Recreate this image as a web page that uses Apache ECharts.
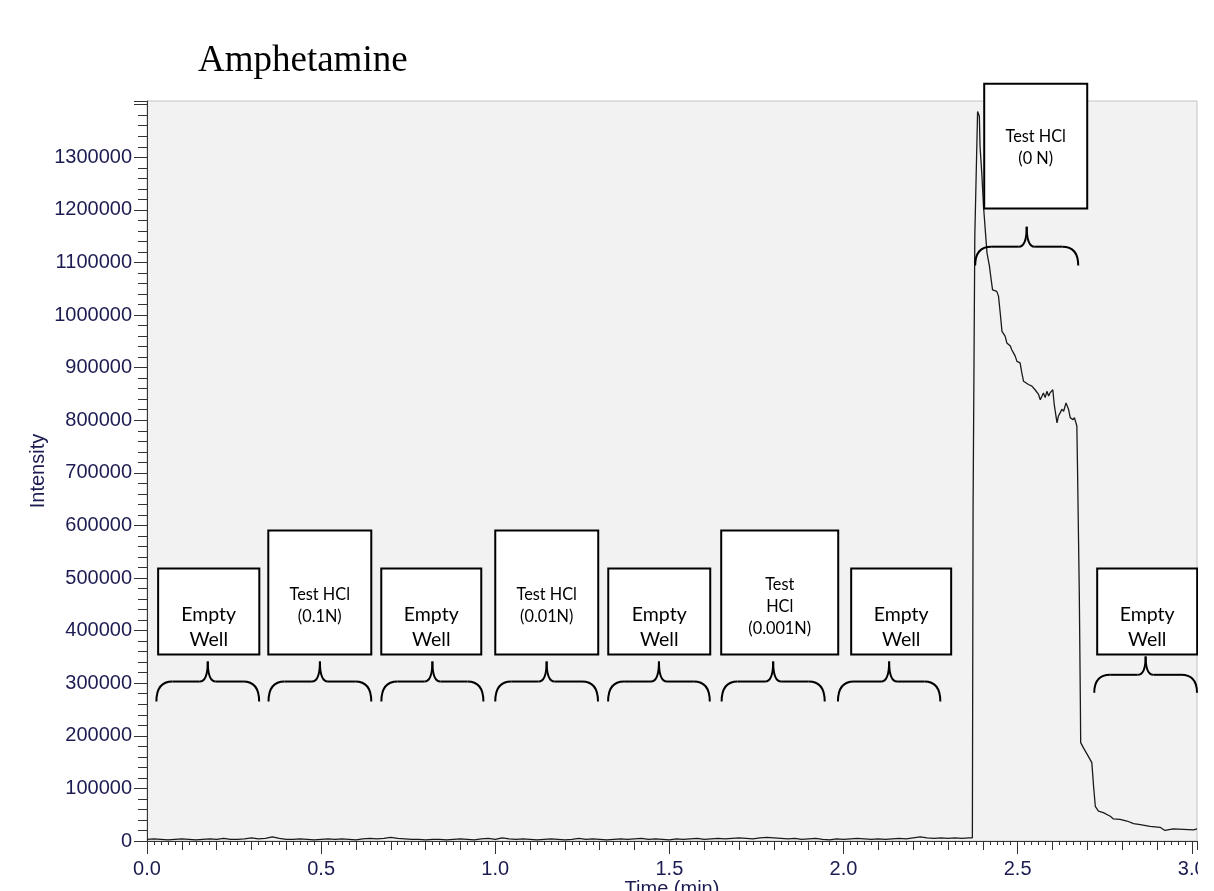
<!DOCTYPE html>
<html><head><meta charset="utf-8">
<script src="https://cdn.jsdelivr.net/npm/echarts@6/dist/echarts.min.js"></script>
<style>html,body{margin:0;padding:0;background:#fff}#c{width:1214px;height:891px}</style>
</head><body><div id="c"></div>
<script>
// ---- data ----
const timeMin = [
  0.00,0.02,0.04,0.06,0.08,0.10,0.12,0.14,0.16,0.18,0.20,0.22,0.24,0.26,0.28,0.30,0.32,0.34,0.36,0.38,
  0.40,0.42,0.44,0.46,0.48,0.50,0.52,0.54,0.56,0.58,0.60,0.62,0.64,0.66,0.68,0.70,0.72,0.74,0.76,0.78,
  0.80,0.82,0.84,0.86,0.88,0.90,0.92,0.94,0.96,0.98,1.00,1.02,1.04,1.06,1.08,1.10,1.12,1.14,1.16,1.18,
  1.20,1.22,1.24,1.26,1.28,1.30,1.32,1.34,1.36,1.38,1.40,1.42,1.44,1.46,1.48,1.50,1.52,1.54,1.56,1.58,
  1.60,1.62,1.64,1.66,1.68,1.70,1.72,1.74,1.76,1.78,1.80,1.82,1.84,1.86,1.88,1.90,1.92,1.94,1.96,1.98,
  2.00,2.02,2.04,2.06,2.08,2.10,2.12,2.14,2.16,2.18,2.20,2.22,2.24,2.26,2.28,2.30,2.32,2.34,2.36,2.370,
  2.372,2.377,2.385,2.390,2.392,2.397,2.402,2.407,2.412,2.419,2.424,2.428,2.440,2.445,2.450,2.455,2.464,2.469,2.474,2.479,
  2.483,2.488,2.493,2.498,2.507,2.512,2.517,2.522,2.531,2.541,2.550,2.560,2.565,2.570,2.574,2.579,2.584,2.589,2.593,2.601,
  2.605,2.613,2.617,2.622,2.627,2.632,2.639,2.646,2.651,2.659,2.663,2.670,2.672,2.675,2.677,2.680,2.681,2.689,2.703,2.713,
  2.718,2.723,2.732,2.746,2.766,2.775,2.794,2.814,2.833,2.852,2.880,2.909,2.923,2.947,2.976,3.005,3.015
];
const intensity = [
  3000,4000,3000,2000,3000,4000,3000,2000,3000,4000,3000,5000,3000,3000,4000,6000,4000,5000,8000,5000,
  3000,3000,4000,3000,2000,3000,4000,3000,4000,3000,2000,4000,5000,4000,5000,7000,5000,4000,3000,3000,
  2000,3000,3000,2000,3000,4000,3000,2000,4000,5000,3000,6000,4000,3000,4000,3000,2000,3000,4000,3000,
  2000,3000,5000,3000,4000,3000,2000,3000,4000,3000,4000,5000,3000,4000,3000,2000,4000,3000,4000,5000,
  3000,4000,5000,4000,5000,6000,5000,4000,6000,7000,6000,5000,4000,5000,3000,4000,5000,3000,2000,4000,
  3000,4000,5000,4000,3000,4000,3000,4000,5000,4000,6000,8000,6000,5000,6000,5000,6000,5000,6000,6000,
  630000,1150000,1387000,1378000,1321000,1270000,1207000,1162000,1118000,1093000,1067000,1048000,1045000,1036000,1004000,969000,960000,947000,950000,941000,
  934000,928000,922000,912000,909000,890000,874000,871000,868000,865000,858000,849000,839000,846000,852000,843000,855000,846000,852000,858000,
  830000,795000,808000,814000,821000,817000,833000,821000,805000,801000,805000,789000,706000,703000,472000,269000,187000,177000,161000,149000,
  104000,66000,57000,54000,47000,42000,41000,38000,33000,31000,28000,26000,20000,23000,22000,21000,23000
];
const xTickLabels = ['0.0','0.5','1.0','1.5','2.0','2.5','3.0'];
const segmentLabels = ['Empty\nWell','Test HCl\n(0.1N)','Empty\nWell','Test HCl\n(0.01N)','Empty\nWell',
  'Test\nHCl\n(0.001N)','Empty\nWell','Test HCl\n(0 N)','Empty\nWell'];
const segmentStart = [0.027,0.349,0.673,1.000,1.324,1.650,1.984,2.378,2.720];
const segmentEnd   = [0.322,0.644,0.966,1.295,1.616,1.946,2.278,2.674,3.015];

// ---- annotation layout (box/brace placement, in axis units) ----
const boxLayout = [
  {x0:0.032,x1:0.3225,top:518000,bot:354600,ty:407000,kind:'empty'},
  {x0:0.3483,x1:0.644,top:590300,bot:354600,ty:447000,kind:'test'},
  {x0:0.6727,x1:0.9598,top:518000,bot:354600,ty:407000,kind:'empty'},
  {x0:1.000,x1:1.2957,top:590300,bot:354600,ty:447000,kind:'test'},
  {x0:1.3245,x1:1.6173,top:518000,bot:354600,ty:407000,kind:'empty'},
  {x0:1.6488,x1:1.9848,top:590300,bot:354600,ty:446000,kind:'test'},
  {x0:2.022,x1:2.3091,top:518000,bot:354600,ty:407000,kind:'empty'},
  {x0:2.404,x1:2.6998,top:1440000,bot:1202500,ty:1318500,kind:'test'},
  {x0:2.7284,x1:3.0155,top:518000,bot:354600,ty:407000,kind:'empty'}
];
const braceLevels = [
  [341200,303200,265200],[341200,303200,265200],[341200,303200,265200],[341200,303200,265200],
  [341200,303200,265200],[341200,303200,265200],[341200,303200,265200],
  [1168000,1130000,1094000],[351000,316000,282000]
];

const labelColor = '#1c1c52';
const lineData = timeMin.map((t, i) => [t, intensity[i]]);

const chart = echarts.init(document.getElementById('c'));
const option = {
  animation: false,
  backgroundColor: '#ffffff',
  title: {
    text: 'Amphetamine', left: 193, top: 38,
    textStyle: {fontFamily: 'Liberation Serif', fontSize: 37, fontWeight: 'normal', color: '#000'}
  },
  grid: {left: 147, right: 17, top: 101, bottom: 50, show: true, outerBoundsMode: 'none', containLabel: false,
    backgroundColor: '#f2f2f2', borderColor: '#c4c4c4', borderWidth: 1},
  xAxis: [
    {type: 'value', min: 0, max: 3.015, interval: 0.1, position: 'bottom',
      axisLine: {show: true, onZero: false, lineStyle: {color: '#333', width: 1}},
      axisTick: {show: true, length: 9, lineStyle: {color: '#333'}},
      minorTick: {show: true, splitNumber: 5, length: 4, lineStyle: {color: '#333'}},
      axisLabel: {show: false}, splitLine: {show: false}},
    {type: 'value', min: 0, max: 3.015, interval: 0.5, position: 'bottom',
      axisLine: {show: false, onZero: false},
      axisTick: {show: true, length: 13, lineStyle: {color: '#333'}},
      axisLabel: {show: true, fontSize: 20, fontFamily: 'Liberation Sans', color: labelColor, margin: 18,
        showMaxLabel: false,
        formatter: v => { const i = Math.round(v / 0.5); return Math.abs(v - i * 0.5) < 1e-6 ? xTickLabels[i] : ''; }},
      splitLine: {show: false},
      name: 'Time (min)', nameLocation: 'middle', nameGap: 38, nameMoveOverlap: false,
      nameTextStyle: {fontSize: 20, fontFamily: 'Liberation Sans', color: labelColor}}
  ],
  yAxis: {
    type: 'value', min: 0, max: 1407000, interval: 100000,
    axisLine: {show: true, lineStyle: {color: '#333', width: 1}},
    axisTick: {show: true, length: 13, lineStyle: {color: '#333'}},
    minorTick: {show: true, splitNumber: 5, length: 9, lineStyle: {color: '#333'}},
    axisLabel: {fontSize: 20, fontFamily: 'Liberation Sans', color: labelColor, margin: 15,
      showMaxLabel: false, formatter: v => (v > 1350000 ? '' : String(v))},
    splitLine: {show: false},
    name: 'Intensity', nameLocation: 'middle', nameGap: 99, nameMoveOverlap: false,
    nameTextStyle: {fontSize: 20, fontFamily: 'Liberation Sans', color: labelColor}
  },
  series: [{
    type: 'line', data: lineData, xAxisIndex: 0, yAxisIndex: 0,
    showSymbol: false, symbol: 'none', lineStyle: {color: '#1a1a1a', width: 1.3}
  }]
};
chart.setOption(option);

const P = (t, v) => chart.convertToPixel({gridIndex: 0}, [t, v]);
const graphics = [];
boxLayout.forEach((b, i) => {
  const a = P(b.x0, b.top), c = P(b.x1, b.bot), tc = P((b.x0 + b.x1) / 2, b.ty);
  graphics.push({type: 'rect', z: 50, shape: {x: a[0], y: a[1], width: c[0] - a[0], height: c[1] - a[1]},
    style: {fill: '#fff', stroke: '#000', lineWidth: 2}});
  const empty = b.kind === 'empty';
  graphics.push({type: 'text', z: 51, style: {text: segmentLabels[i], x: tc[0], y: tc[1],
    align: 'center', verticalAlign: 'middle', fontFamily: 'Lato',
    fontSize: empty ? 19.5 : 16.3, lineHeight: empty ? 25 : 22, fill: '#000'}});
  // brace
  const [vt, vm, ve] = braceLevels[i];
  const x0 = P(segmentStart[i], vm)[0], x1 = P(segmentEnd[i], vm)[0];
  const xc = (x0 + x1) / 2, yT = P(0, vt)[1], yM = P(0, vm)[1], yE = P(0, ve)[1];
  const r = 16, r2 = 8;
  const st = {stroke: '#000', lineWidth: 2, fill: 'none'};
  const q = (x1_, y1_, x2_, y2_, cx, cy) => ({type: 'bezierCurve', z: 50,
    shape: {x1: x1_, y1: y1_, x2: x2_, y2: y2_, cpx1: cx, cpy1: cy}, style: st});
  const l = (x1_, y1_, x2_, y2_) => ({type: 'line', z: 50, shape: {x1: x1_, y1: y1_, x2: x2_, y2: y2_}, style: st});
  graphics.push(q(x0, yE, x0 + r, yM, x0, yM));
  graphics.push(l(x0 + r, yM, xc - r2, yM));
  graphics.push(q(xc - r2, yM, xc, yT, xc, yM));
  graphics.push(q(xc, yT, xc + r2, yM, xc, yM));
  graphics.push(l(xc + r2, yM, x1 - r, yM));
  graphics.push(q(x1 - r, yM, x1, yE, x1, yM));
});
// picture is cropped at the right edge of the plot frame
const edge = P(3.015, 0)[0];
graphics.push({type: 'rect', z: 100, shape: {x: edge + 1, y: 0, width: 1214 - edge, height: 891},
  style: {fill: '#fff'}});
chart.setOption({graphic: graphics});
</script></body></html>
